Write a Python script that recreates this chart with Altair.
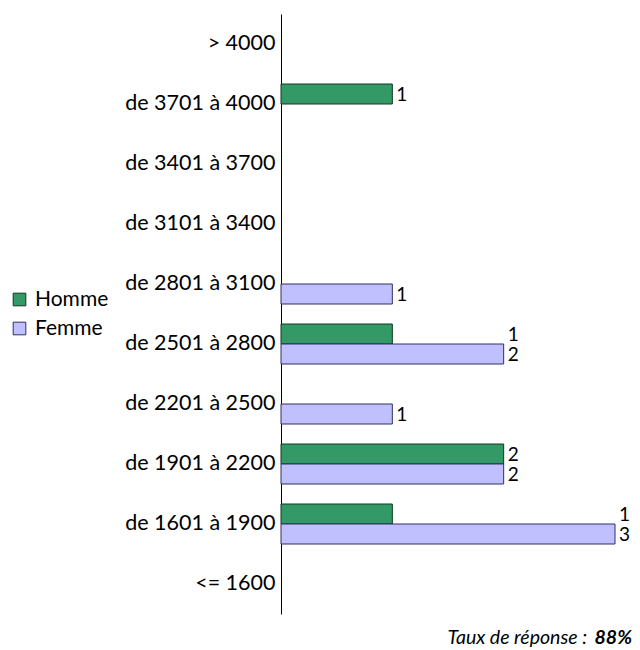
import altair as alt
import pandas as pd

categories = ["> 4000", "de 3701 à 4000", "de 3401 à 3700", "de 3101 à 3400",
              "de 2801 à 3100", "de 2501 à 2800", "de 2201 à 2500",
              "de 1901 à 2200", "de 1601 à 1900", "<= 1600"]
homme = [0, 1, 0, 0, 0, 1, 0, 2, 1, 0]
femme = [0, 0, 0, 0, 1, 2, 1, 2, 3, 0]
series = ["Homme", "Femme"]
fills = ["#339966", "#c0c0ff"]
strokes = ["#103820", "#303060"]
footer_text = "Taux de réponse :"
footer_value = "88%"

rows = []
for c, h, f in zip(categories, homme, femme):
    m = max(h, f)
    for s, v in (("Homme", h), ("Femme", f)):
        if v > 0:
            rows.append({"cat": c, "serie": s, "val": v, "labx": m})
df = pd.DataFrame(rows)

FONT = "Lato"
W = 334

y_scale = alt.Scale(domain=categories, paddingInner=1/3, paddingOuter=1/6)
y_enc = alt.Y("cat:N", title=None, scale=y_scale,
              axis=alt.Axis(domainColor="black", domainWidth=1, ticks=False, grid=False,
                            labelFontSize=21.5, labelColor="black", labelFont=FONT,
                            labelPadding=6))
x_scale = alt.Scale(domain=[0, 3], nice=False)
yoff_scale = alt.Scale(domain=series, paddingInner=0, paddingOuter=0)

leg = alt.Legend(title=None, orient="none", legendX=-272, legendY=275,
                 symbolType="square", symbolSize=160, symbolStrokeWidth=1,
                 labelFontSize=21, labelFont=FONT, labelColor="black",
                 rowPadding=7, labelOffset=5)

base = alt.Chart(df)

bars = base.mark_bar(strokeWidth=1).encode(
    y=y_enc,
    yOffset=alt.YOffset("serie:N", scale=yoff_scale),
    x=alt.X("val:Q", scale=x_scale, axis=None),
    fill=alt.Fill("serie:N", scale=alt.Scale(domain=series, range=fills), legend=leg),
    stroke=alt.Stroke("serie:N", scale=alt.Scale(domain=series, range=strokes), legend=leg),
)

labels = base.mark_text(align="left", baseline="middle", dx=4, dy=1, fontSize=19, font=FONT, color="black").encode(
    y=alt.Y("cat:N", scale=y_scale),
    yOffset=alt.YOffset("serie:N", scale=yoff_scale),
    x=alt.X("labx:Q", scale=x_scale),
    text=alt.Text("val:Q"),
)

foot1 = alt.Chart(pd.DataFrame({"t": [footer_text]})).mark_text(
    align="right", baseline="alphabetic", fontSize=19.5, fontStyle="italic", font=FONT, color="black"
).encode(x=alt.value(351 - 45), y=alt.value(630), text="t:N")
foot2 = alt.Chart(pd.DataFrame({"t": [footer_value]})).mark_text(
    align="right", baseline="alphabetic", fontSize=19.5, fontStyle="italic", fontWeight="bold", font=FONT, color="black"
).encode(x=alt.value(351), y=alt.value(630), text="t:N")

chart = alt.layer(bars, labels, foot1, foot2).properties(
    width=W, height=600,
    autosize=alt.AutoSizeParams(type="none"),
    padding={"left": 273, "top": 6, "right": 624 - 273 - W, "bottom": 36},
).configure(background="white").configure_view(stroke=None)

chart.save("out.html", embed_options={"renderer": "svg", "actions": False})
